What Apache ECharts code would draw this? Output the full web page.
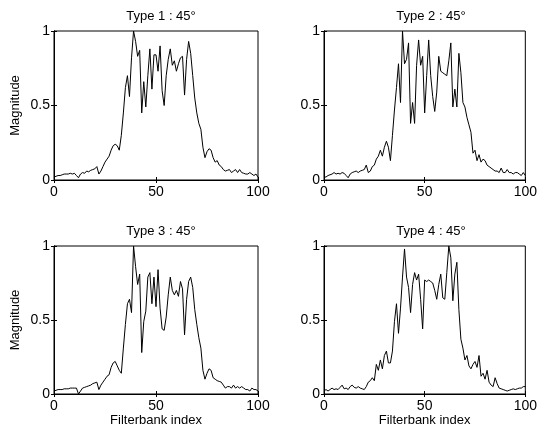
<!DOCTYPE html>
<html>
<head>
<meta charset="utf-8">
<script src="https://cdn.jsdelivr.net/npm/echarts@6/dist/echarts.min.js"></script>
<style>
  html, body { margin: 0; padding: 0; background: #fff; }
  #chart { width: 540px; height: 437px; }
</style>
</head>
<body>
<div id="chart"></div>
<script>
  // filterbank index (x) shared by all four panels
  const filterbankIndex = [0, 1, 2, 3, 4, 5, 6, 7, 8, 9, 10, 11, 12, 13, 14, 15, 16, 17, 18, 19, 20,
    21, 22, 23, 24, 25, 26, 27, 28, 29, 30, 31, 32, 33, 34, 35, 36, 37, 38, 39, 40,
    41, 42, 43, 44, 45, 46, 47, 48, 49, 50, 51, 52, 53, 54, 55, 56, 57, 58, 59, 60,
    61, 62, 63, 64, 65, 66, 67, 68, 69, 70, 71, 72, 73, 74, 75, 76, 77, 78, 79, 80,
    81, 82, 83, 84, 85, 86, 87, 88, 89, 90, 91, 92, 93, 94, 95, 96, 97, 98, 99, 100];

  const type1 = [0.02, 0.025, 0.03, 0.03, 0.035, 0.04, 0.04, 0.04, 0.045, 0.04, 0.045,
    0.03, 0.015, 0.04, 0.05, 0.045, 0.06, 0.055, 0.065, 0.07, 0.075,
    0.09, 0.04, 0.06, 0.09, 0.12, 0.14, 0.16, 0.2, 0.23, 0.24,
    0.23, 0.2, 0.3, 0.45, 0.62, 0.7, 0.56, 0.82, 1.0, 0.93,
    0.83, 0.87, 0.45, 0.66, 0.49, 0.7, 0.88, 0.61, 0.84, 0.84,
    0.73, 0.9, 0.6, 0.5, 0.7, 0.81, 0.88, 0.77, 0.8, 0.73,
    0.78, 0.82, 0.83, 0.57, 0.81, 0.93, 0.85, 0.7, 0.55, 0.45,
    0.38, 0.34, 0.22, 0.15, 0.19, 0.21, 0.2, 0.15, 0.12, 0.13,
    0.1, 0.09, 0.07, 0.06, 0.065, 0.07, 0.05, 0.06, 0.07, 0.05,
    0.07, 0.05, 0.045, 0.04, 0.04, 0.05, 0.04, 0.03, 0.04, 0.02];

  const type2 = [0.02, 0.02, 0.03, 0.035, 0.04, 0.05, 0.04, 0.045, 0.04, 0.05, 0.045,
    0.03, 0.015, 0.04, 0.05, 0.055, 0.06, 0.05, 0.06, 0.065, 0.07,
    0.1, 0.05, 0.06, 0.09, 0.1, 0.14, 0.16, 0.2, 0.16, 0.22,
    0.26, 0.22, 0.13, 0.3, 0.47, 0.62, 0.78, 0.52, 1.0, 0.78,
    0.81, 0.92, 0.38, 0.52, 0.38, 0.77, 0.94, 0.77, 0.83, 0.45,
    0.7, 0.94, 0.7, 0.56, 0.46, 0.59, 0.83, 0.73, 0.72, 0.71,
    0.7, 0.8, 0.92, 0.49, 0.61, 0.49, 0.85, 0.72, 0.52, 0.49,
    0.42, 0.37, 0.32, 0.18, 0.2, 0.13, 0.17, 0.12, 0.14, 0.13,
    0.1, 0.09, 0.08, 0.07, 0.06, 0.06, 0.05, 0.08, 0.05, 0.05,
    0.07, 0.05, 0.05, 0.04, 0.05, 0.05, 0.04, 0.03, 0.05, 0.03];

  const type3 = [0.02, 0.025, 0.03, 0.03, 0.03, 0.035, 0.035, 0.035, 0.04, 0.04, 0.04,
    0.04, 0.0, 0.02, 0.04, 0.045, 0.05, 0.055, 0.06, 0.07, 0.075,
    0.08, 0.03, 0.06, 0.08, 0.1, 0.12, 0.13, 0.18, 0.21, 0.22,
    0.19, 0.16, 0.14, 0.31, 0.47, 0.61, 0.64, 0.55, 1.0, 0.86,
    0.74, 0.81, 0.28, 0.49, 0.56, 0.79, 0.82, 0.61, 0.79, 0.59,
    0.84, 0.58, 0.44, 0.43, 0.52, 0.67, 0.79, 0.7, 0.67, 0.7,
    0.66, 0.76, 0.71, 0.4, 0.64, 0.76, 0.79, 0.72, 0.57, 0.47,
    0.38, 0.31, 0.16, 0.1, 0.14, 0.17, 0.16, 0.11, 0.1, 0.09,
    0.085, 0.08, 0.06, 0.04, 0.05, 0.05, 0.04, 0.06, 0.04, 0.05,
    0.04, 0.05, 0.04, 0.03, 0.03, 0.02, 0.04, 0.03, 0.03, 0.02];

  const type4 = [0.02, 0.03, 0.02, 0.03, 0.04, 0.03, 0.035, 0.03, 0.045, 0.06, 0.035,
    0.04, 0.03, 0.05, 0.06, 0.045, 0.04, 0.05, 0.04, 0.035, 0.03,
    0.05, 0.08, 0.09, 0.11, 0.09, 0.2, 0.16, 0.23, 0.17, 0.26,
    0.29, 0.21, 0.21, 0.29, 0.49, 0.61, 0.41, 0.58, 0.79, 0.98,
    0.79, 0.72, 0.55, 0.74, 0.82, 0.77, 0.81, 0.64, 0.44, 0.77,
    0.76, 0.77, 0.76, 0.75, 0.7, 0.64, 0.74, 0.81, 0.65, 0.64,
    0.82, 1.0, 0.92, 0.63, 0.81, 0.89, 0.57, 0.37, 0.31, 0.23,
    0.26, 0.19, 0.17, 0.2, 0.22, 0.18, 0.26, 0.12, 0.14, 0.1,
    0.16, 0.08, 0.06, 0.05, 0.11, 0.07, 0.04, 0.035, 0.03, 0.025,
    0.02, 0.025, 0.03, 0.035, 0.03, 0.035, 0.04, 0.04, 0.05, 0.05];

  const panelTitles = ['Type 1 : 45°', 'Type 2 : 45°', 'Type 3 : 45°', 'Type 4 : 45°'];
  const panelValues = [type1, type2, type3, type4];
  const xTicks = [0, 50, 100];
  const yTicks = [0, 0.5, 1];

  const chart = echarts.init(document.getElementById('chart'));
  const font = 'Liberation Sans, Arial, sans-serif';

  // plot boxes: [left, top, width, height]
  const boxes = [[54, 31, 204, 149], [324, 31, 204, 149], [54, 246, 204, 148], [324, 246, 204, 148]];

  const grids = [], xAxes = [], yAxes = [], series = [], titles = [];
  boxes.forEach((b, i) => {
    grids.push({ left: b[0], top: b[1], width: b[2], height: b[3], show: true,
      borderColor: '#000', borderWidth: 1, backgroundColor: '#fff' });
    titles.push({ text: panelTitles[i], left: b[0] + b[2] / 2, top: b[1] - 26, textAlign: 'center',
      textStyle: { fontFamily: font, fontSize: 13, fontWeight: 'normal', color: '#000' } });
    const bottomRow = i >= 2, leftCol = i % 2 === 0;
    // bottom / left axes with labels
    xAxes.push({ gridIndex: i, type: 'value', min: xTicks[0], max: xTicks[2], interval: xTicks[1] - xTicks[0],
      position: 'bottom',
      name: bottomRow ? 'Filterbank index' : '', nameLocation: 'middle', nameGap: 19,
      nameTextStyle: { fontFamily: font, fontSize: 13, color: '#000' },
      axisLine: { show: true, lineStyle: { color: '#000', width: 1 } },
      axisTick: { show: true, inside: true, length: 3, lineStyle: { color: '#000' } },
      axisLabel: { fontFamily: font, fontSize: 14, color: '#000', margin: 5 },
      splitLine: { show: false } });
    yAxes.push({ gridIndex: i, type: 'value', min: yTicks[0], max: yTicks[2], interval: yTicks[1] - yTicks[0],
      position: 'left',
      name: leftCol ? 'Magnitude' : '', nameLocation: 'middle', nameGap: 32,
      nameTextStyle: { fontFamily: font, fontSize: 13, color: '#000' },
      axisLine: { show: true, lineStyle: { color: '#000', width: 1 } },
      axisTick: { show: true, inside: true, length: 3, lineStyle: { color: '#000' } },
      axisLabel: { fontFamily: font, fontSize: 14, color: '#000', margin: 4 },
      splitLine: { show: false } });
    // mirrored ticks on top / right
    xAxes.push({ gridIndex: i, type: 'value', min: xTicks[0], max: xTicks[2], interval: xTicks[1] - xTicks[0],
      position: 'top', axisLine: { show: true, lineStyle: { color: '#000' } },
      axisTick: { show: true, inside: true, length: 3, lineStyle: { color: '#000' } },
      axisLabel: { show: false }, splitLine: { show: false } });
    yAxes.push({ gridIndex: i, type: 'value', min: yTicks[0], max: yTicks[2], interval: yTicks[1] - yTicks[0],
      position: 'right', axisLine: { show: true, lineStyle: { color: '#000' } },
      axisTick: { show: true, inside: true, length: 3, lineStyle: { color: '#000' } },
      axisLabel: { show: false }, splitLine: { show: false } });

    series.push({
      type: 'line',
      xAxisIndex: i * 2,
      yAxisIndex: i * 2,
      data: filterbankIndex.map((x, k) => [x, panelValues[i][k]]),
      showSymbol: false,
      lineStyle: { color: '#000', width: 1 },
      animation: false
    });
  });

  chart.setOption({
    backgroundColor: '#fff',
    animation: false,
    title: titles,
    grid: grids,
    xAxis: xAxes,
    yAxis: yAxes,
    series: series
  });
</script>
</body>
</html>
